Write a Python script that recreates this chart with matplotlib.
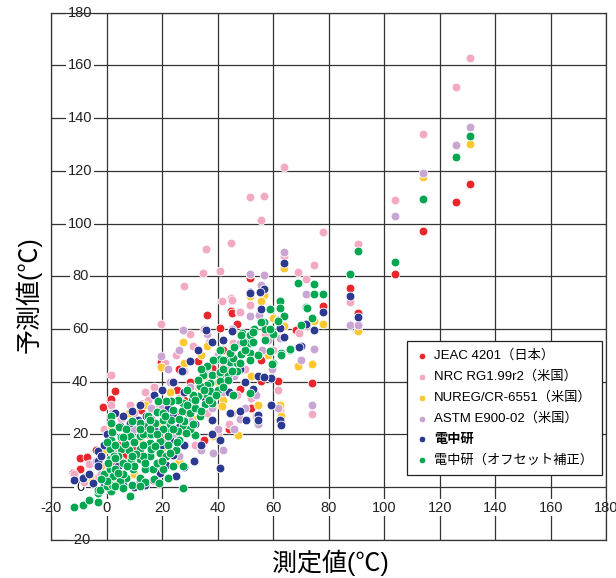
import matplotlib
matplotlib.use("Agg")
import matplotlib.pyplot as plt
import numpy as np

plt.rcParams['font.family'] = ['Liberation Sans', 'Noto Sans CJK JP', 'DejaVu Sans']

jeac = np.array([
    (131.1, 115.1), (125.9, 108.3), (113.9, 97.1), (104, 80.7), (87.7, 75.5), (90.7, 65.9),
    (77.9, 68.9), (73.9, 39.4), (61.8, 40.1), (63.2, 57), (68.4, 59.8), (51.7, 79.3),
    (44.8, 67), (36, 65.4), (40.8, 60.5), (45, 66.1), (47, 62), (38.2, 45.3), (48, 37.3),
    (55.6, 40.2), (55.8, 48.4), (37.8, 45.3), (19.7, 47.5), (25.2, 37), (12.9, 31.7),
    (12.5, 29.4), (30, 40), (33, 48), (28, 33), (22, 30), (16, 26), (42, 52), (50, 55),
    (58, 58), (60, 64), (34, 38), (26, 45), (-1.3, 30.4), (2.9, 36.4), (1.7, 33.5),
    (1.1, 19.3), (-9.7, 11.1), (-9.7, 6.7), (-12, 5.5), (-6.9, 11.5), (-4, 14), (5, 17),
    (8, 21), (10, 14), (3, 8), (-2, 4), (6, 12), (15, 20), (18, 24), (20, 18), (25, 27),
    (52, 30), (44, 22), (35, 18),
])
nrc = np.array([
    (131.1, 162.9), (125.9, 152), (113.9, 133.8), (104, 109), (90.7, 92.3), (87.7, 70.2),
    (77.9, 96.9), (63.9, 121.3), (51.7, 110), (56.8, 110.4), (55.7, 101.3), (35.7, 90.2),
    (44.8, 92.6), (64, 87.6), (74.8, 84.4), (68.8, 81.6), (40.8, 82.1), (34.8, 81.3),
    (71.8, 78.8), (44.8, 71.9), (41.5, 70.5), (47.8, 66.4), (51.7, 69.2), (27.8, 76.2),
    (45, 71.1), (48, 66.3), (19.7, 62), (31.2, 53.5), (45.6, 54.5), (60, 52.2), (69.5, 58.5),
    (61.8, 36.8), (73.9, 27.8), (62.7, 23.8), (54, 26.9), (62.5, 29.1), (1.7, 42.7),
    (-11.6, 4.8), (-6.4, 8.9), (1.7, 31.3), (8.3, 31.3), (-3, 4), (3, 14), (10, 28), (15, 33),
    (17, 38), (24, 40), (28, 44), (33, 35), (36, 28), (38.4, 13), (40, 20), (22, 20), (26, 34),
    (12, 22), (-8, 2), (30, 58), (25, 50), (21, 47), (37, 55), (35, 60), (42, 46), (50, 45),
    (54, 50), (57, 58), (47, 35), (44, 24), (-1, 22), (5, 26), (14, 36), (19, 30), (32, 16),
    (52, 34),
])
nureg = np.array([
    (131.1, 130.3), (113.9, 117.5), (90.7, 59.3), (64, 83.1), (56.8, 73), (51.7, 72.6),
    (55.7, 70.5), (74.8, 63), (77.9, 61.9), (69, 46.1), (73.9, 46.9), (64, 61.3), (62.5, 31.3),
    (54.6, 31.3), (62.7, 27), (55.5, 70.5), (27.6, 55.2), (19.7, 45.5), (13.7, 31.3),
    (1.7, 23.1), (40, 40), (35, 42), (44, 50), (48, 58), (30, 30), (38.4, 19.3), (42, 33),
    (25, 22), (20, 15), (16, 12), (10, 5), (5, 10), (-2, 8), (-6, 4), (36, 53.5), (47.4, 19.9),
    (41.4, 30.7), (45, 28), (52, 42), (58, 50), (60, 64), (23, 36), (34, 50), (28, 47),
    (-1, 14), (8, 28), (12, 18), (18, 24), (31, 26), (26, 10), (3, 2), (33, 38),
])
astm = np.array([
    (131.1, 136.7), (125.9, 129.9), (113.9, 119), (104, 102.7), (87.7, 61.4), (90.7, 61.4),
    (64, 89.1), (51.7, 81), (56.8, 80.4), (55.7, 76.8), (51.7, 65), (71.8, 73.1), (72.1, 61.3),
    (74.8, 52.5), (69.9, 48.4), (73.9, 31.3), (59.7, 44.7), (61.8, 30), (55, 65.5), (48, 54.7),
    (62.5, 56.7), (54.5, 24), (27.6, 59.8), (19.7, 49.7), (36, 58), (40, 50), (44, 46),
    (46, 42), (50, 40), (38, 30), (40, 22), (42, 14), (48, 26), (54, 35), (30, 25), (24, 20),
    (34, 14), (26, 12), (18, 8), (12, 4), (6, 2), (-2, 5), (8, 18), (14, 24), (20, 30),
    (30, 38), (23, 40), (45, 60), (58, 56), (-4, 10), (2, 28), (-8, 4), (38.4, 13), (32, 20),
    (36, 44), (42, 36), (50, 30), (56, 52), (46, 22), (28, 30), (16, 30), (10, 22), (4, 14),
    (22, 45), (26, 52),
])
criepi = np.array([
    (-11.6, 2.8), (-8.5, 3.5), (-6.4, 5.1), (-3.1, 13.6), (-3.1, 9.8), (-3.1, 7.9), (-5, 1.5),
    (-1, 0.5), (2, -0.5), (6, 0.8), (10, 0), (14, 1), (16.7, 2.8), (11.9, 2.2), (19.1, 5.4),
    (21.5, 8.5), (24, 12.3), (25.1, 4.1), (4.7, 23.1), (8.3, 24.3), (11.3, 25.6), (14.3, 26.9),
    (16.7, 24.3), (17.3, 21.2), (0, 20), (-1, 16), (3, 28), (6, 27), (9, 29), (12, 31),
    (17, 35), (20, 37), (22, 30), (24, 27), (26, 23), (20, 16), (23, 18), (-2, 12), (0, 5),
    (4, 8), (27.3, 44.2), (31.5, 9.8), (27.8, 15.9), (27.8, 7.7), (40.8, 18), (40.8, 7.3),
    (37.8, 25.6), (35.4, 33.9), (35.6, 38.5), (35.7, 45.6), (35.7, 59.8), (41.4, 40.2),
    (45, 49), (45, 59.4), (44.4, 28), (48, 29), (50.4, 25.6), (54.6, 27.5), (54.6, 25.6),
    (59.4, 31.3), (62.5, 25.6), (52.8, 37.4), (54.6, 42), (59.4, 41.5), (30, 30), (32, 24),
    (28, 36), (24, 40), (30, 48), (33, 52), (38, 55), (42, 56), (48, 45), (50, 40), (44, 36),
    (38, 20), (34, 16), (64, 84.9), (56.8, 75), (51.7, 74.2), (55.7, 67.4), (77.9, 66.4),
    (87.7, 72.7), (90.7, 64.6), (71.8, 61.8), (74.9, 59.8), (69.9, 53.5), (64, 57),
    (62.5, 60.4), (56.6, 41.7), (62.7, 23.5), (55.2, 74), (51.6, 73.8), (69.2, 53.2),
])
criepi_offset = np.array([
    (-11.6, -7.4), (-8.5, -6.7), (-6.4, -4.7), (-3.1, -5.8), (-3.1, -2.2), (-3.1, -0.9),
    (1.7, -1.5), (8.6, -3.5), (27.6, -0.5), (-1.3, 2.9), (-2.5, -1.1), (0, 0.5), (2, 1),
    (0.5, 3.5), (-1, 5), (1.1, 14.3), (1.1, 10.5), (1.1, 6.7), (2.3, 4.1), (1.7, 26.9),
    (1.7, 24.5), (1.5, 18), (5.3, 19.1), (8.3, 19.3), (5.3, 14.3), (11.9, 19.3), (14.3, 23.1),
    (17.3, 24.4), (20.3, 25.6), (21.5, 21.2), (19.1, 17.4), (15.5, 16.8), (11.9, 14.3),
    (11.9, 10.5), (15.5, 11.7), (19.1, 13), (8.9, 10.5), (5.9, 9.2), (9.5, 6.7), (13.7, 6.7),
    (16.7, 6.7), (7.1, 3.5), (11.9, 3.5), (4.7, 2.2), (20.3, 6.7), (21.5, 11.7), (0.5, 9.2),
    (4.1, 11.7), (3, 7), (6, 5), (9, 1), (14, 2), (17, 3), (8, 14), (10, 17), (13, 20),
    (16, 20), (18, 9), (3, 16), (6.5, 16.5), (10, 8), (2, 21), (4.5, 23), (7, 22), (12, 24.5),
    (15, 27), (18, 28.5), (22, 16), (23, 24), (16, 14.5), (13, 12), (3, 0.5), (6, -0.5),
    (12, 0.5), (19, 1.5), (22, 3.5), (24, 8), (25, 14), (0, 2.5), (-2, 3), (0, 17), (9, 25),
    (27.6, 8.2), (27.6, 23.1), (31.8, 19.9), (29.4, 28.2), (33.6, 38.3), (39, 48.4),
    (43.2, 48.4), (51.6, 51), (40.8, 48.7), (38.1, 42.7), (40.8, 42.7), (43.8, 42.7),
    (37.2, 39.6), (44.4, 47.4), (46.8, 47.2), (36, 35.1), (35.4, 31.4), (33, 34.7),
    (30.6, 33.2), (27.6, 32), (25.8, 33.2), (23.3, 32.6), (21.3, 32.6), (18.5, 32.6),
    (24, 29.4), (20.3, 28.2), (27, 28.8), (30, 28.2), (33.6, 26.9), (23.3, 25.6), (20.3, 22),
    (25.8, 21.2), (15.5, 25.6), (15.5, 22), (11.9, 22), (48.9, 58.6), (51.6, 57.9),
    (51.6, 54.7), (56.6, 62.6), (62.5, 70.5), (62.5, 68), (61.9, 63.6), (66.1, 52.2),
    (62.8, 50.9), (59.8, 47.1), (54.6, 50.3), (58.8, 51.6), (51.6, 48.4), (48.6, 50.7),
    (45.6, 49.1), (44.4, 51), (42, 48.4), (38.4, 48.4), (36, 46), (34.8, 42.4), (36, 38.7),
    (40.8, 43.6), (40.8, 40.2), (43.8, 40.8), (37.2, 36.4), (40.2, 37), (33.6, 38.4),
    (31.2, 35.1), (33, 40.8), (45.6, 35.1), (51.6, 35.8), (28, 25), (30, 22), (26, 18),
    (22, 19.5), (29, 37), (32, 30), (38, 32), (42, 45), (47, 44), (50, 52), (53, 60),
    (57, 56), (60, 58), (2.5, 12), (4, 5.5), (7.5, 8), (10.5, 12.5), (14, 9), (17.5, 15.5),
    (20, 10), (23, 13), (25.5, 17), (28.5, 20.5), (31, 24), (34, 29), (37, 33), (39.5, 35),
    (42, 38), (45, 44), (48, 47), (26, 26), (29, 31), (32, 33), (35, 37), (18, 20), (21, 27),
    (24, 22), (13, 16), (9, 12), (6, 19), (3, 11), (46, 53), (49, 55), (41, 52), (34, 45),
    (131.1, 133.4), (125.9, 125.2), (113.9, 109.4), (104, 85.6),
    (87.7, 80.7), (90.7, 89.7), (68.8, 77.5), (74.8, 77), (74.8, 73.1), (77.9, 73.4),
    (71.8, 68.3), (73.9, 64.2), (64, 65.1), (72.1, 67.8), (55.7, 62.8), (56.9, 60.1),
    (61.8, 63.2), (69.9, 61.6), (66, 52.5), (62.7, 50.3), (59.7, 46.8), (52.7, 58.7),
    (52.7, 54.9), (58.8, 67.4), (55.5, 62.8), (58.8, 60), (48.6, 57.8),
])

series = [
    (jeac, "JEAC 4201（日本）", "#e8262b"),
    (nrc, "NRC RG1.99r2（米国）", "#f4a9c2"),
    (nureg, "NUREG/CR-6551（米国）", "#fdc82f"),
    (astm, "ASTM E900-02（米国）", "#c8a5d3"),
    (criepi, "電中研", "#2b3990"),
    (criepi_offset, "電中研（オフセット補正）", "#00a650"),
]
ticks = list(range(-20, 181, 20))

fig = plt.figure(figsize=(6.16, 5.78), dpi=100)
ax = fig.add_axes([0.083, 0.066, 0.901, 0.912])
ax.set_xlim(-20, 180)
ax.set_ylim(-20, 180)
ax.set_xticks(ticks)
ax.set_yticks(ticks)
ax.tick_params(length=0, labelbottom=False, labelleft=False)
ax.grid(True, color="#333333", lw=0.9, zorder=0)
ax.set_axisbelow(True)
for sp in ax.spines.values():
    sp.set_color("#333333")
    sp.set_linewidth(0.9)

for data, label, color in series:
    ax.scatter(data[:, 0], data[:, 1], s=40, color=color, edgecolors="white",
               linewidths=0.6, label=label, zorder=3)

box = dict(boxstyle="square,pad=0.12", fc="white", ec="none")
for v in ticks:
    ax.text(v, -7.8, str(v), ha="center", va="center", fontsize=10.5,
            color="#222222", bbox=box, zorder=2, clip_on=False)
    ax.text(-9.5, v, str(v), ha="center", va="center", fontsize=10.5,
            color="#222222", bbox=box, zorder=2, clip_on=False)

fig.text(0.046, 0.49, "予測値(℃)", rotation=90, ha="center", va="center", fontsize=18)
fig.text(0.536, 0.026, "測定値(℃)", ha="center", va="center", fontsize=18)

leg = ax.legend(loc="upper left", bbox_to_anchor=(0.661, 0.41),
                bbox_transform=fig.transFigure, borderaxespad=0, fontsize=9.5,
                frameon=True, fancybox=False, edgecolor="#222222", framealpha=1,
                markerscale=0.75, handletextpad=0.4, labelspacing=0.64,
                borderpad=0.65, handlelength=1.0)
leg.get_frame().set_linewidth(0.9)
leg.set_zorder(5)
leg.get_texts()[4].set_fontweight("bold")

fig.savefig("out.png", dpi=100)
